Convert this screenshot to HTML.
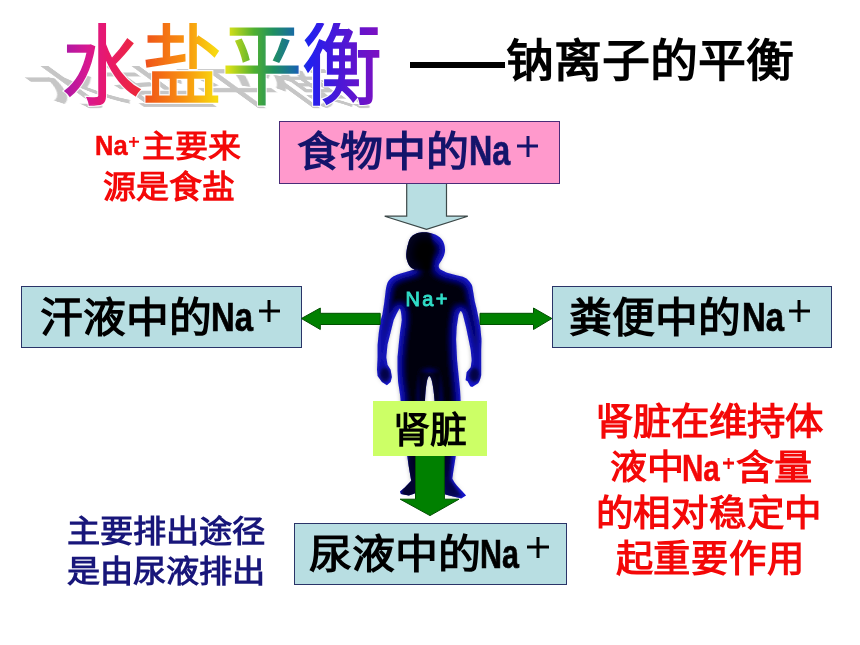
<!DOCTYPE html>
<html lang="zh-CN">
<head>
<meta charset="utf-8">
<style>
html,body{margin:0;padding:0;background:#fff;}
body{width:860px;height:645px;position:relative;overflow:hidden;font-family:"Liberation Sans",sans-serif;}
.a{position:absolute;white-space:nowrap;line-height:1;transform-origin:0 0;}
.b{font-weight:bold;}
.box{position:absolute;box-sizing:border-box;}
.r{position:absolute;}
.pl{position:absolute;}
.pl:before,.pl:after{content:"";position:absolute;background:currentColor;}
.pl:before{left:0;right:0;top:50%;height:var(--t,3px);transform:translateY(-50%);}
.pl:after{top:0;bottom:0;left:50%;width:var(--t,3px);transform:translateX(-50%);}
</style>
</head>
<body>

<!-- WordArt shadow -->
<div class="a" id="was" style="left:62px;top:23px;font-size:80px;color:#c6c6c6;-webkit-text-stroke:1.5px #c6c6c6;transform-origin:0 74px;transform:translateY(11px) skewX(54deg) scaleY(0.56);filter:blur(0.5px);">水盐平衡</div>
<!-- WordArt halo -->
<div class="a" style="left:62px;top:23px;font-size:80px;transform:scaleY(1.105);color:#fff;-webkit-text-stroke:3.4px rgba(255,255,255,0.9);">水盐平衡</div>
<!-- WordArt -->
<div class="a" id="wa" style="left:62px;top:23px;font-size:80px;transform:scaleY(1.105);background:linear-gradient(90deg,#a818a8 0%,#d81890 8%,#e8186c 14%,#ec2838 24%,#f05818 27%,#f89010 38%,#f8d810 48%,#d8e018 52%,#50b030 60%,#209060 66%,#1868a8 73%,#2020f0 77%,#4818d8 86%,#8010c0 100%);-webkit-background-clip:text;background-clip:text;color:transparent;-webkit-text-stroke:1.4px transparent;">水盐平衡</div>

<!-- subtitle -->
<div class="box" style="left:410px;top:62px;width:95px;height:6px;background:#000;"></div>
<div class="a b" id="sub" style="left:506.4px;top:38.9px;font-size:48px;color:#000;transform:scaleY(0.95);">钠离子的平衡</div>

<!-- red note left -->
<div class="a b" id="rn1n" style="-webkit-text-stroke:0.5px #f40808;left:94.5px;top:131.3px;font-size:28.3px;color:#f40808;transform:scaleX(0.9);">Na</div>
<div class="pl" style="left:128.8px;top:136.7px;width:10px;height:10px;color:#f40808;--t:2.6px;"></div>
<div class="a b" id="rn1" style="left:141.6px;top:130.6px;font-size:33px;color:#f40808;transform:scaleY(0.94);">主要来</div>
<div class="a b" id="rn2" style="left:102.5px;top:170.6px;font-size:33px;color:#f40808;transform:scaleY(0.965);">源是食盐</div>

<!-- top arrow -->
<svg class="r" style="left:0;top:0;" width="860" height="645" viewBox="0 0 860 645">
<path d="M406.7 180 L446.5 180 L446.5 216.2 L467.8 216.2 L426.5 229.4 L384.7 216.2 L406.7 216.2 Z" fill="#b8dee2" stroke="#3c4848" stroke-width="1.2"/>
</svg>
<!-- top box -->
<div class="box" style="left:279px;top:121px;width:281px;height:62.5px;background:#ff99cc;border:1.6px solid #4a2c78;"></div>
<div class="a b" id="t1" style="left:297.1px;top:131.4px;font-size:43px;color:#14146b;transform:scaleY(0.964);">食物中的</div>
<div class="a b" id="t1n" style="-webkit-text-stroke:0.7px #14146b;left:469px;top:130.2px;font-size:42.3px;color:#14146b;transform:scaleX(0.762);">Na</div>
<div class="pl" style="left:517px;top:135.5px;width:21px;height:21px;color:#14146b;"></div>

<!-- left box -->
<div class="box" style="left:21px;top:286px;width:281px;height:62px;background:#b8dee2;border:1.6px solid #2a3468;"></div>
<div class="a b" id="t2" style="left:39.9px;top:297.8px;font-size:42.8px;color:#000;transform:scaleY(0.954);">汗液中的</div>
<div class="a b" id="t2n" style="-webkit-text-stroke:0.7px #000;left:210.8px;top:296.6px;font-size:41.1px;color:#000;transform:scaleX(0.8);">Na</div>
<div class="pl" style="left:258.5px;top:300px;width:21.5px;height:21.5px;color:#000;"></div>

<!-- right box -->
<div class="box" style="left:551.5px;top:286px;width:280.5px;height:62px;background:#b8dee2;border:1.6px solid #2a3468;"></div>
<div class="a b" id="t3" style="left:569.3px;top:297.8px;font-size:42.8px;color:#000;transform:scaleY(0.954);">粪便中的</div>
<div class="a b" id="t3n" style="-webkit-text-stroke:0.7px #000;left:741.8px;top:296.6px;font-size:41.1px;color:#000;transform:scaleX(0.8);">Na</div>
<div class="pl" style="left:788.7px;top:300px;width:21.5px;height:21.5px;color:#000;"></div>

<!-- bottom box -->
<div class="box" style="left:294px;top:523px;width:273px;height:61.5px;background:#b8dee2;border:1.6px solid #2a3468;"></div>
<div class="a b" id="t4" style="left:308.8px;top:535.2px;font-size:43px;color:#000;transform:scaleY(0.92);">尿液中的</div>
<div class="a b" id="t4n" style="-webkit-text-stroke:0.7px #000;left:479.8px;top:533.6px;font-size:41.1px;color:#000;transform:scaleX(0.74);">Na</div>
<div class="pl" style="left:527px;top:536.7px;width:21.5px;height:21.5px;color:#000;"></div>

<!-- figure -->
<svg class="r" style="left:0;top:0;" width="860" height="645" viewBox="0 0 860 645">
<defs>
<filter id="fig" x="-20%" y="-20%" width="140%" height="140%">
<feMorphology in="SourceAlpha" operator="erode" radius="2.5" result="e"/>
<feGaussianBlur in="e" stdDeviation="3" result="eb"/>
<feFlood flood-color="#03030f" result="k"/>
<feComposite in="k" in2="eb" operator="in" result="core"/>
<feMerge><feMergeNode in="SourceGraphic"/><feMergeNode in="core"/></feMerge>
</filter>
</defs>
<g filter="url(#fig)">
<path id="body" fill="#1e1ed0" d="M422 232.3 C429 231.8 437 234 441.5 238.9 C444.5 242.5 445.5 248 444.8 252.5 C444 257 441.5 260.5 439.5 263.5 C438.2 265.5 438.4 268 440.5 269.5 C443 271 446 272.3 448 273.1 L455.5 274.9 L462.9 276.8 C466 278 467.5 279 468.5 280.5 C470.5 282.5 471.8 284.5 472.2 286.1 L473.5 293.6 L474.7 301 L476.6 308.5 L478.4 317.2 L480.3 327.1 L481.5 339.5 L481.2 350 L481.2 365.2 L481.2 375.3 C480.5 379 479.5 381.5 478.2 383.3 L472.2 386.9 L470.2 386.3 L467.6 381.3 L465.6 380.3 L466.6 372.2 L470.7 367.2 L471.7 360.2 L470.7 350.1 L468.7 340 L466 327.1 L462.9 314.7 Q461.5 310.5 460.4 311 L458.6 314.7 L456.7 327.1 L456.1 339.5 L456.6 350.1 L457.1 360.2 L458.1 370.2 L459.1 380.3 L460.1 390.4 L460.6 400.5 L458.5 430 L455.7 456.4 L453.3 471.8 L452.3 478.7 C455 484 459 488 462 491 L466.1 495.5 L461.2 498.5 L445.3 494.5 L436 470 L434.5 400 C433.5 386 431.5 376.5 429.3 376 C427.2 376.5 425.8 386 425 400 L424 470 L414.7 493.5 L408.8 495.5 L400.9 494 L399.9 491.5 L404.8 487.6 L411.2 480.7 L408.8 466.8 L407.3 456.4 L402.5 430 L400.6 400 L400 394.5 L398.1 382.1 L397.5 369.7 L397.5 357.3 L398.7 344.8 L400 332.4 L401.8 320 Q401 308 399.5 308.5 L396.5 314 L393.7 320 L390.6 332.4 L387.5 344.8 L386.3 357.3 L387.5 364.7 L390.6 369.7 L391.9 377.1 L390.6 382.1 L386.9 385.2 L381.9 382.1 L377.6 375.9 L377 369.7 L377.6 357.3 L377.6 344.8 L378.8 332.4 L380.7 320 L382.4 314.6 L384.3 302.2 L385.5 292.3 C386 288 386.5 286 386.8 284.9 C387.5 282 388.5 281 389.3 279.9 C391 278 392 277 393.6 276.2 C396 275 398 274.2 399.8 273.7 L408.5 271.2 C411 270.5 413 270 414.7 269.5 C412 268.8 410 267 408.6 264.4 C407 261 406 257.5 406.2 254.4 C406.5 250 407.3 246 408.2 243.5 C409 239 411.5 235.5 415.9 233.8 C418 232.8 420 232.4 422 232.3 Z"/>
</g>
<clipPath id="bc"><use href="#body"/></clipPath>
<filter id="lb"><feGaussianBlur stdDeviation="1.5"/></filter>
<g clip-path="url(#bc)"><g filter="url(#lb)"><path d="M409 452 L418 452 L418 500 L400 500 Z" fill="#02021a" opacity="0.85"/><path d="M443 452 L451 452 L450 480 L462 496 L443 500 Z" fill="#050530" opacity="0.75"/><path d="M419 372 L440 372 L440 402 L419 402 Z" fill="#000008" opacity="0.8"/><ellipse cx="385" cy="375" rx="5" ry="7" fill="#05052a" opacity="0.7"/><path d="M400 228 L430 228 C433 240 433 255 430 270 L400 270 Z" fill="#000006" opacity="0.85"/><ellipse cx="474.5" cy="375" rx="5" ry="7" fill="#05052a" opacity="0.7"/></g></g>

</svg>
<div class="a" id="fna" style="left:405.4px;top:289.4px;font-size:20px;letter-spacing:2.4px;color:#30dcc8;-webkit-text-stroke:0.9px #30dcc8;">Na+</div>

<!-- arrows -->
<svg class="r" style="left:0;top:0;" width="860" height="645" viewBox="0 0 860 645">
<path d="M380.2 313.3 L320.3 313.3 L320.3 308 L301.4 318.5 L320.3 329.5 L320.3 324.5 L380.2 324.5 Z" fill="#008000" stroke="#005000" stroke-width="1"/>
<path d="M480 313.3 L533.5 313.3 L533.5 308 L551.9 318.5 L533.5 329.5 L533.5 324.5 L480 324.5 Z" fill="#008000" stroke="#005000" stroke-width="1"/>
<path d="M415.5 455.5 L444.4 455.5 L444.4 499.2 L459 499.2 L430 515.6 L400.2 499.2 L415.5 499.2 Z" fill="#008000" stroke="#005000" stroke-width="1"/>
</svg>

<!-- kidney box -->
<div class="box" style="left:373px;top:401px;width:114px;height:55px;background:#ccff66;"></div>
<div class="a b" id="t5" style="left:393px;top:412.4px;font-size:37px;color:#000;transform:scaleY(0.985);">肾脏</div>

<!-- navy note -->
<div class="a b" id="nn1" style="left:66.5px;top:515.8px;font-size:33.2px;color:#18167a;transform:scaleY(0.916);">主要排出途径</div>
<div class="a b" id="nn2" style="left:67px;top:555.5px;font-size:33.2px;color:#18167a;transform:scaleY(0.93);">是由尿液排出</div>

<!-- red note right -->
<div class="a b" id="rr1" style="left:594.8px;top:404.4px;font-size:38.4px;color:#f40808;transform:scaleY(0.965);">肾脏在维持体</div>
<div class="a b" id="rr2a" style="left:609.6px;top:449.7px;font-size:37px;color:#f40808;transform:scaleY(0.93);">液中</div>
<div class="a b" id="rr2n" style="-webkit-text-stroke:0.5px #f40808;left:682px;top:451.4px;font-size:36.5px;color:#f40808;transform:scaleX(0.81);">Na</div>
<div class="pl" style="left:722.8px;top:457.9px;width:11.5px;height:11px;color:#f40808;--t:2.8px;"></div>
<div class="a b" id="rr2b" style="left:736.1px;top:449.7px;font-size:38.2px;color:#f40808;transform:scaleY(0.93);">含量</div>
<div class="a b" id="rr3" style="left:595.5px;top:496px;font-size:37.5px;letter-spacing:0.8px;color:#f40808;transform:scaleY(0.97);">的相对稳定中</div>
<div class="a b" id="rr4" style="left:615.5px;top:541px;font-size:37.3px;letter-spacing:0.8px;color:#f40808;transform:scaleY(1.0);">起重要作用</div>

</body>
</html>
